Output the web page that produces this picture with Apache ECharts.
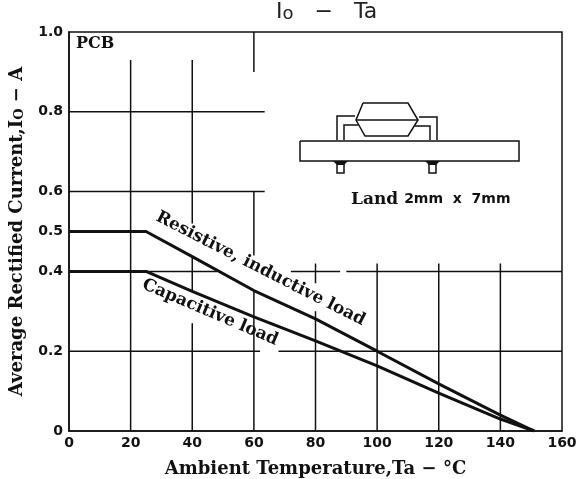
<!DOCTYPE html>
<html>
<head>
<meta charset="utf-8">
<style>
  html, body { margin: 0; padding: 0; background: #fff; }
  #chart { width: 576px; height: 479px; }
</style>
<script src="https://cdn.jsdelivr.net/npm/echarts@6/dist/echarts.min.js"></script>
</head>
<body>
<div id="chart"></div>
<script>
var xTicks = [0, 20, 40, 60, 80, 100, 120, 140, 160];
var yTicks = [0, 0.2, 0.4, 0.5, 0.6, 0.8, 1.0];

var resistive = [[0, 0.5], [25, 0.5], [40, 0.437], [60, 0.352], [80, 0.281], [100, 0.2], [120, 0.118], [140, 0.04], [151, 0]];
var capacitive = [[0, 0.4], [25, 0.4], [40, 0.35], [60, 0.286], [80, 0.226], [100, 0.163], [120, 0.095], [140, 0.03], [151, 0]];

// the printed grid is broken up around the labels, so keep its pieces
var gridV = [
  [20, 0.93, 0], [40, 0.93, 0.52], [40, 0.437, 0.35], [40, 0.27, 0],
  [60, 1, 0.9], [60, 0.6, 0.44], [60, 0.35, 0],
  [80, 0.42, 0.37], [80, 0.3, 0], [100, 0.42, 0], [120, 0.42, 0], [140, 0.42, 0]
];
var gridH = [
  [0.8, 0, 63.5], [0.6, 0, 63.5], [0.4, 0, 48], [0.4, 72, 88], [0.4, 90, 160],
  [0.2, 0, 62], [0.2, 68, 160]
];

var gridData = [];
gridV.forEach(function (s) {
  gridData.push([s[0], s[1]], [s[0], s[2]], [s[0], null]);
});
gridH.forEach(function (s) {
  gridData.push([s[1], s[0]], [s[2], s[0]], [s[2], null]);
});

var serif = "'DejaVu Serif', serif";
var sans = "'DejaVu Sans', sans-serif";
var ink = "#111";

function seg(points) {
  return {
    type: "polyline",
    silent: true,
    shape: { points: points },
    style: { fill: null, stroke: ink, lineWidth: 1.5 }
  };
}

var chart = echarts.init(document.getElementById("chart"), null, { renderer: "canvas" });
chart.setOption({
  animation: false,
  backgroundColor: "#fff",
  grid: { left: 69, right: 14, top: 32, bottom: 48, outerBoundsMode: "none", show: true, borderColor: ink, borderWidth: 1.5, backgroundColor: "transparent" },
  xAxis: {
    type: "value", min: 0, max: 160, interval: 20,
    axisLine: { lineStyle: { color: ink, width: 1.5 } },
    axisTick: { show: false },
    splitLine: { show: false },
    axisLabel: { color: ink, fontFamily: sans, fontSize: 14, fontWeight: "bold", margin: 5, showMinLabel: true, showMaxLabel: true,
      customValues: xTicks },
    name: "Ambient Temperature,Ta − °C",
    nameLocation: "middle",
    nameGap: 29,
    nameTextStyle: { color: ink, fontFamily: serif, fontSize: 18, fontWeight: "bold" }
  },
  yAxis: {
    type: "value", min: 0, max: 1,
    axisLine: { lineStyle: { color: ink, width: 1.5 } },
    axisTick: { show: false },
    splitLine: { show: false },
    axisLabel: { color: ink, fontFamily: sans, fontSize: 14, fontWeight: "bold", margin: 6,
      customValues: yTicks,
      formatter: function (v) { return v === 0 ? "0" : v.toFixed(1); } },
    name: "{n|Average Rectified Current,I}{s|O}{n| − A}",
    nameLocation: "middle",
    nameGap: 42,
    nameTextStyle: {
      color: ink,
      rich: {
        n: { fontFamily: serif, fontSize: 18, fontWeight: "bold", color: ink, height: 20 },
        s: { fontFamily: serif, fontSize: 13, fontWeight: "bold", color: ink, verticalAlign: "bottom", height: 14 }
      }
    }
  },
  series: [
    { name: "grid", type: "line", data: gridData, showSymbol: false, silent: true, z: 1,
      lineStyle: { color: ink, width: 1.5 } },
    { name: "Resistive, inductive load", type: "line", data: resistive, showSymbol: false, silent: true, z: 3,
      lineStyle: { color: ink, width: 3 } },
    { name: "Capacitive load", type: "line", data: capacitive, showSymbol: false, silent: true, z: 3,
      lineStyle: { color: ink, width: 3 } }
  ],
  graphic: [
    { type: "text", left: 276, top: 1, style: { text: "{a|I}{b|o}{a|   −   Ta}", rich: {
        a: { fontFamily: sans, fontSize: 22, fill: "#222", height: 26 },
        b: { fontFamily: sans, fontSize: 18, fill: "#222", verticalAlign: "bottom", height: 22 }
      } } },
    { type: "text", left: 76, top: 36, style: { text: "PCB", font: "bold 16px " + serif, fill: ink } },
    { type: "text", x: 157, y: 216, rotation: -27 * Math.PI / 180, style: { text: "Resistive, inductive load", font: "bold 17px " + serif, fill: ink, textVerticalAlign: "middle" } },
    { type: "text", x: 143, y: 284, rotation: -23 * Math.PI / 180, style: { text: "Capacitive load", font: "bold 17px " + serif, fill: ink, textVerticalAlign: "middle" } },
    { type: "text", left: 351, top: 191, style: { text: "{a|Land }{b|2mm  x  7mm}", rich: {
        a: { font: "bold 17px " + serif, fill: ink },
        b: { font: "bold 14px " + sans, fill: ink }
      } } },
    // package drawing
    seg([[300, 141], [519, 141], [519, 161], [300, 161], [300, 141]]),
    seg([[363, 103], [408, 103], [418, 120], [408, 136], [365, 136], [356, 120], [363, 103]]),
    seg([[356, 120], [418, 120]]),
    seg([[337, 140], [337, 116], [355, 116]]),
    seg([[344, 140], [344, 125], [358, 125]]),
    seg([[437, 140], [437, 117], [419, 117]]),
    seg([[430, 140], [430, 126], [415, 126]]),
    seg([[337, 164], [337, 173], [344, 173], [344, 164]]),
    seg([[429, 164], [429, 173], [436, 173], [436, 164]]),
    { type: "polygon", silent: true, shape: { points: [[333, 161], [348, 161], [344, 165], [337, 165]] }, style: { fill: ink } },
    { type: "polygon", silent: true, shape: { points: [[425, 161], [440, 161], [436, 165], [429, 165]] }, style: { fill: ink } }
  ]
});
</script>
</body>
</html>
